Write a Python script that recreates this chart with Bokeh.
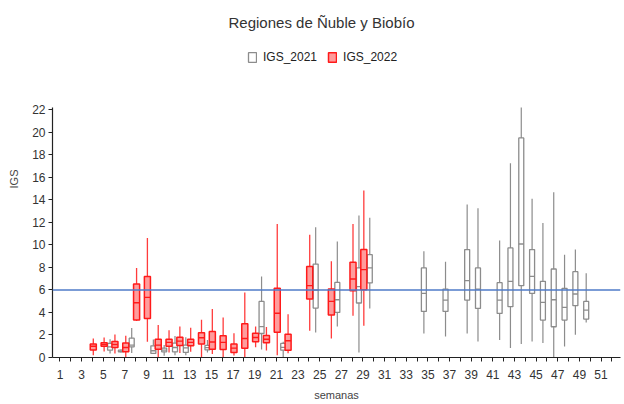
from bokeh.plotting import figure
from bokeh.models import (ColumnDataSource, Range1d, FixedTicker, Span, Label,
                          Legend, LegendItem)
from bokeh.transform import dodge
from bokeh.embed import file_html
from bokeh.resources import INLINE

# ---------------- data ----------------
weeks_2021 = [6, 7, 8, 10, 11, 12, 13, 15, 20, 22, 25, 27, 29, 30,
              35, 37, 39, 40, 42, 43, 44, 45, 46, 47, 48, 49, 50]
low_2021 = [0.36, 0.45, 0.39, 0.30, 0.15, 0.20, 0.20, 0.45, 0.70, 0.00, 2.22, 2.76, 0.45, 4.36,
            2.13, 1.87, 2.13, 1.42, 1.55, 0.84, 1.20, 1.42, 1.28, 0.00, 0.98, 2.02, 3.11]
q1_2021 = [0.65, 0.50, 0.95, 0.36, 0.50, 0.50, 0.45, 0.68, 2.13, 0.65, 4.39, 4.00, 4.84, 6.62,
           4.09, 4.09, 5.10, 4.36, 3.91, 4.51, 6.38, 5.69, 3.32, 2.73, 3.32, 4.60, 3.41]
med_2021 = [0.95, 0.55, 1.10, 0.60, 0.65, 0.89, 0.85, 0.88, 2.75, 0.90, 5.99, 5.13, 6.29, 7.95,
            5.69, 5.10, 6.82, 6.08, 5.10, 6.76, 10.08, 7.20, 4.89, 5.13, 4.45, 5.64, 4.21]
q3_2021 = [1.25, 0.65, 1.72, 1.04, 0.83, 1.28, 1.10, 1.07, 4.98, 1.25, 8.30, 6.67, 7.95, 9.13,
           7.95, 6.08, 9.58, 7.95, 6.64, 9.73, 19.50, 9.58, 6.76, 7.86, 6.14, 7.62, 4.98]
high_2021 = [1.63, 0.70, 2.61, 1.60, 1.10, 1.90, 1.80, 1.55, 7.20, 1.40, 11.56, 10.29, 12.60, 12.40,
             9.43, 8.51, 13.58, 13.25, 10.38, 17.25, 22.20, 14.09, 11.95, 14.67, 9.13, 9.58, 7.47]

weeks_2022 = [4, 5, 6, 7, 8, 9, 10, 11, 12, 13, 14, 15, 16, 17, 18, 19, 20, 21, 22, 24, 26, 28, 29]
low_2022 = [0.21, 0.53, 0.36, 0.00, 3.24, 1.40, 0.00, 0.44, 0.40, 0.50, 0.00, 0.30, 0.00, 0.18,
            0.00, 0.90, 0.63, 0.20, 0.38, 2.37, 1.69, 3.71, 2.82]
q1_2022 = [0.66, 1.01, 0.89, 0.50, 3.32, 3.47, 0.74, 1.01, 1.07, 1.04, 1.19, 0.74, 0.70, 0.45,
           0.83, 1.40, 1.30, 2.25, 0.65, 5.19, 3.77, 5.93, 6.02]
med_2022 = [1.00, 1.16, 1.16, 0.89, 4.86, 5.34, 1.10, 1.34, 1.45, 1.34, 1.75, 1.38, 1.34, 0.83,
            1.69, 1.78, 1.62, 3.93, 1.49, 6.38, 4.98, 6.97, 7.80]
q3_2022 = [1.20, 1.31, 1.42, 1.28, 6.53, 7.20, 1.63, 1.63, 1.80, 1.63, 2.20, 2.30, 1.93, 1.19,
           3.00, 2.15, 1.95, 6.14, 2.06, 8.07, 6.08, 8.45, 9.58]
high_2022 = [1.69, 1.78, 2.05, 1.93, 7.95, 10.62, 2.88, 2.43, 2.75, 2.65, 3.35, 4.30, 3.56, 2.15,
             5.78, 2.75, 2.70, 11.86, 3.83, 10.91, 8.54, 11.86, 14.82]

reference_value = 6
odd_weeks = list(range(1, 52, 2))
even_weeks = list(range(2, 54, 2))
y_ticks = list(range(0, 23, 2))
y_axis_top = 22.2

# ---------------- figure ----------------
# the frame spans the canvas top so that title and legend (drawn inside) are not clipped;
# the y axis line itself is limited to 0..22 with bounds
p = figure(width=624, height=404, output_backend="svg", toolbar_location=None,
           x_range=Range1d(0.31, 52.8), y_range=Range1d(0, 31.7),
           min_border_left=52, min_border_right=4, min_border_top=0,
           min_border_bottom=47)
p.outline_line_color = None
p.xgrid.visible = False
p.ygrid.visible = False
p.background_fill_color = "white"
p.border_fill_color = "white"

FONT = "Liberation Sans"

src21 = ColumnDataSource(dict(week=weeks_2021, lo=low_2021, q1=q1_2021,
                              med=med_2021, q3=q3_2021, hi=high_2021))
src22 = ColumnDataSource(dict(week=weeks_2022, lo=low_2022, q1=q1_2022,
                              med=med_2022, q3=q3_2022, hi=high_2022))

off21, w21 = -0.37, 0.46
off22, w22 = 0.08, 0.56
gray = "#8c8c8c"
red = "#ff1a1a"

p.add_layout(Span(location=reference_value, dimension="width",
                  line_color="#4f7bc8", line_width=1.6))

# 2021 (gray)
p.segment(x0=dodge("week", off21, range=p.x_range), x1=dodge("week", off21, range=p.x_range),
          y0="lo", y1="hi", source=src21, line_color=gray, line_width=1.2)
box21 = p.vbar(x=dodge("week", off21, range=p.x_range), width=w21, bottom="q1", top="q3",
               source=src21, fill_color="white", line_color=gray, line_width=1.3)
p.segment(x0=dodge("week", off21 - w21 / 2, range=p.x_range),
          x1=dodge("week", off21 + w21 / 2, range=p.x_range),
          y0="med", y1="med", source=src21, line_color=gray, line_width=1.3)

# 2022 (red)
p.segment(x0=dodge("week", off22, range=p.x_range), x1=dodge("week", off22, range=p.x_range),
          y0="lo", y1="hi", source=src22, line_color=red, line_width=1.3, line_alpha=0.85)
box22 = p.vbar(x=dodge("week", off22, range=p.x_range), width=w22, bottom="q1", top="q3",
               source=src22, fill_color="#ff9c9c", line_color=red, line_width=1.5)
p.segment(x0=dodge("week", off22 - w22 / 2, range=p.x_range),
          x1=dodge("week", off22 + w22 / 2, range=p.x_range),
          y0="med", y1="med", source=src22, line_color=red, line_width=1.4)

# axes
p.xaxis.ticker = FixedTicker(ticks=odd_weeks, minor_ticks=even_weeks)
p.yaxis.ticker = FixedTicker(ticks=y_ticks, minor_ticks=[])
p.yaxis.bounds = (0, y_axis_top)
for ax in (p.xaxis[0], p.yaxis[0]):
    ax.axis_line_color = "#222222"
    ax.axis_line_width = 1.2
    ax.major_tick_line_color = "#222222"
    ax.minor_tick_line_color = "#222222"
    ax.major_tick_in = 0
    ax.major_tick_out = 4
    ax.minor_tick_in = 0
    ax.minor_tick_out = 4
    ax.major_label_text_font = FONT
    ax.major_label_text_font_size = "12px"
    ax.major_label_text_color = "#333333"
    ax.axis_label_text_font = FONT
    ax.axis_label_text_font_size = "11px"
    ax.axis_label_text_font_style = "normal"
    ax.axis_label_text_color = "#444444"

p.xaxis.axis_label = "semanas"
p.xaxis.major_label_standoff = 8
p.xaxis.axis_label_standoff = 7
p.yaxis.axis_label = "IGS"
p.yaxis.major_label_standoff = 3
p.yaxis.axis_label_standoff = 9

# title (inside the tall frame, above the data)
p.add_layout(Label(x=269, y=335, x_units="screen", y_units="screen",
                   text="Regiones de Ñuble y Biobío", text_align="center",
                   text_baseline="middle", text_font=FONT, text_font_size="15px",
                   text_color="#333333"))

# legend
legend = Legend(items=[LegendItem(label="IGS_2021", renderers=[box21]),
                       LegendItem(label="IGS_2022", renderers=[box22])],
                location=(195, 293), orientation="horizontal",
                glyph_width=10, glyph_height=12, label_standoff=6, spacing=10,
                padding=0, margin=0, border_line_color=None,
                background_fill_alpha=0, label_text_font=FONT,
                label_text_font_size="12px", label_text_color="#222222")
p.add_layout(legend)

open("out.html", "w").write(file_html(p, INLINE))
